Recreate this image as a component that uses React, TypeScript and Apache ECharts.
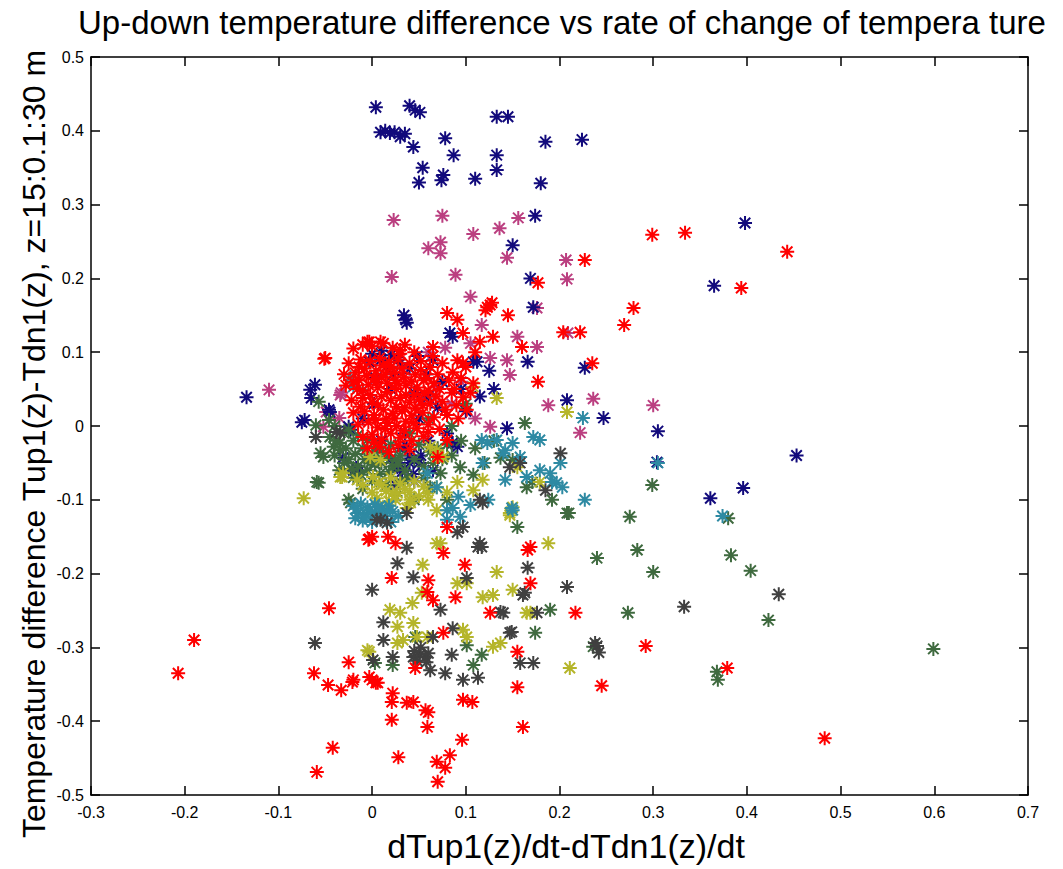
import React, { useEffect, useRef } from "react";
import * as echarts from "echarts";

// ---- axis ticks ----
const xTickLabels = ["-0.3", "-0.2", "-0.1", "0", "0.1", "0.2", "0.3", "0.4", "0.5", "0.6", "0.7"];
const yTickLabels = ["-0.5", "-0.4", "-0.3", "-0.2", "-0.1", "0", "0.1", "0.2", "0.3", "0.4", "0.5"];

const titleText = "Up-down temperature difference vs rate of change of tempera ture";
const xLabelText = "dTup1(z)/dt-dTdn1(z)/dt";
const yLabelText = "Temperature difference Tup1(z)-Tdn1(z), z=15:0.1:30 m";

// ---- series values [x, y] ----
const navyPts: number[][] = [
  [0.004, 0.432], [0.040, 0.434], [0.046, 0.428], [0.051, 0.425], [0.009, 0.398], [0.014, 0.400],
  [0.019, 0.397], [0.024, 0.398], [0.030, 0.392], [0.035, 0.396], [0.044, 0.378], [0.078, 0.390],
  [0.087, 0.367], [0.054, 0.350], [0.050, 0.330], [0.076, 0.340], [0.074, 0.333], [0.110, 0.335],
  [0.133, 0.419], [0.145, 0.419], [0.185, 0.385], [0.224, 0.388], [0.133, 0.367], [0.133, 0.347],
  [0.180, 0.329], [0.174, 0.285], [0.150, 0.245], [0.169, 0.200], [0.172, 0.161], [0.398, 0.275],
  [0.365, 0.190], [0.227, 0.079], [0.208, 0.035], [0.247, 0.011], [0.305, -0.007], [0.304, -0.049],
  [0.453, -0.040], [0.396, -0.084], [0.361, -0.098], [0.034, 0.150], [0.036, 0.144],
  [-0.134, 0.039], [-0.061, 0.056], [-0.065, 0.038], [-0.075, 0.005], [-0.046, 0.022], [-0.025, -0.001],
  [-0.031, -0.043], [-0.017, -0.057], [-0.003, 0.087], [0.004, 0.065], [0.009, 0.089], [0.027, 0.093],
  [0.083, 0.126], [0.065, 0.089], [0.112, 0.087], [0.037, -0.028], [0.027, -0.056], [0.091, -0.028],
  [-0.023, -0.005], [-0.016, -0.060], [0.037, 0.140], [0.086, 0.121], [0.108, 0.087], [0.166, 0.087],
  [-0.066, 0.049], [-0.072, 0.008], [0.144, -0.003], [0.086, -0.023], [0.030, -0.056], [-0.020, -0.060],
  [-0.045, 0.019], [0.015, 0.080], [0.022, 0.070], [0.030, 0.085], [0.040, 0.078], [0.048, 0.095],
  [0.058, 0.070], [0.020, 0.050], [0.045, 0.045], [0.060, 0.040], [0.070, 0.025], [0.050, 0.010],
  [0.035, -0.010], [0.040, -0.040], [0.030, -0.030], [0.020, -0.045], [0.050, -0.050], [0.060, -0.020],
  [0.010, -0.020], [0.002, 0.030], [-0.010, 0.010], [0.075, 0.060], [0.095, 0.050], [0.100, 0.020],
  [0.115, 0.040], [0.125, 0.075], [0.130, 0.050], [0.080, -0.010], [0.065, -0.060], [0.025, -0.080],
  [0.045, -0.075], [0.000, 0.098], [0.010, 0.102], [0.020, 0.096], [0.040, -0.050], [0.032, -0.062],
  [0.044, -0.065], [0.052, -0.040],
];

const magentaPts: number[][] = [
  [0.023, 0.279], [0.075, 0.285], [0.108, 0.260], [0.073, 0.249], [0.060, 0.241], [0.073, 0.234],
  [0.021, 0.202], [0.089, 0.205], [0.105, 0.175], [0.136, 0.268], [0.156, 0.282], [0.144, 0.228],
  [0.207, 0.225], [0.208, 0.199], [0.176, 0.160], [0.209, 0.126], [0.236, 0.037], [0.300, 0.028],
  [0.222, -0.009], [-0.110, 0.049], [-0.052, -0.001], [-0.033, 0.045], [-0.049, 0.019], [-0.035, 0.011],
  [0.117, 0.137], [0.105, 0.112], [0.078, 0.106], [0.126, 0.092], [0.155, 0.121], [0.176, 0.107],
  [0.144, 0.089], [0.147, 0.069], [0.188, 0.028], [0.126, -0.001], [0.069, 0.053], [0.053, 0.035],
  [-0.034, 0.042], [0.095, 0.060], [0.085, 0.030], [0.060, 0.100], [0.110, 0.010],
];

const greenPts: number[][] = [
  [0.299, -0.080], [0.275, -0.123], [0.283, -0.168], [0.300, -0.198], [0.273, -0.253], [0.380, -0.125],
  [0.383, -0.175], [0.404, -0.196], [0.423, -0.263], [0.599, -0.302], [0.368, -0.333], [0.369, -0.344],
  [0.155, -0.137], [0.210, -0.118], [0.192, -0.100], [0.171, -0.076], [0.137, -0.043], [0.190, -0.249],
  [0.174, -0.280], [0.163, 0.004], [0.240, -0.179], [0.236, -0.299], [0.101, -0.297], [0.117, -0.310],
  [0.108, -0.324], [0.046, -0.286], [0.003, -0.321], [0.022, -0.324], [-0.023, -0.104], [-0.057, -0.077],
  [-0.025, -0.100], [-0.052, -0.042], [-0.041, -0.028], [-0.035, -0.023], [-0.057, 0.033], [-0.060, 0.001],
  [-0.046, 0.008], [-0.059, -0.076], [-0.055, -0.037], [-0.034, -0.033], [-0.005, -0.019], [0.005, -0.028],
  [0.016, -0.042], [0.073, -0.064], [0.062, -0.083], [0.080, -0.100], [0.108, -0.066], [0.094, -0.056],
  [0.150, -0.046], [0.165, -0.083], [0.208, -0.118], [-0.030, -0.010], [-0.020, -0.020], [-0.010, -0.030],
  [0.000, -0.040], [0.010, -0.050], [0.020, -0.025], [0.030, -0.040], [-0.025, -0.045], [-0.015, -0.055],
  [-0.005, -0.060], [0.008, -0.065], [0.022, -0.055], [0.035, -0.060], [0.045, -0.045], [0.050, -0.025],
  [0.040, -0.010], [-0.035, -0.060], [-0.020, -0.070], [0.000, -0.075], [0.015, -0.080], [0.030, -0.075],
  [0.055, -0.070], [0.065, -0.050], [0.070, -0.030], [0.060, 0.010], [0.085, -0.040], [0.095, -0.020],
  [0.110, -0.030], [0.120, -0.050], [0.130, -0.020], [0.025, -0.095], [0.045, -0.100], [-0.010, -0.085],
  [0.085, 0.000], [0.100, 0.030], [-0.040, 0.000], [-0.045, -0.015],
  [-0.028, -0.030], [-0.018, -0.038], [-0.008, -0.045], [0.003, -0.052], [0.012, -0.036], [0.025, -0.045],
  [-0.030, -0.050], [-0.022, -0.058], [-0.012, -0.066], [-0.002, -0.050], [0.006, -0.030], [0.018, -0.062],
  [0.028, -0.052], [0.038, -0.070], [-0.040, -0.040], [-0.038, -0.020], [-0.025, -0.005], [-0.015, -0.012],
  [0.055, -0.055], [0.062, -0.035], [0.075, -0.045], [0.080, -0.025],
];

const olivePts: number[][] = [
  [-0.073, -0.098], [-0.032, -0.069], [-0.003, -0.306], [0.001, -0.069], [0.007, -0.077], [0.054, -0.188],
  [0.073, -0.159], [0.133, -0.198], [0.188, -0.159], [0.091, -0.213], [0.101, -0.213], [0.118, -0.232],
  [0.129, -0.229], [0.150, -0.222], [0.043, -0.240], [0.053, -0.226], [0.019, -0.249], [0.030, -0.253],
  [0.044, -0.267], [0.027, -0.272], [0.033, -0.290], [0.027, -0.294], [-0.005, -0.304], [0.048, -0.286],
  [0.059, -0.286], [0.097, -0.276], [0.101, -0.286], [0.129, -0.299], [0.137, -0.294], [0.169, -0.253],
  [0.211, -0.328], [0.069, -0.159], [0.037, -0.111], [0.014, -0.111], [0.147, -0.118], [0.069, -0.114],
  [0.118, -0.073], [0.155, -0.056], [0.179, -0.076], [0.147, -0.121], [0.165, -0.253], [-0.034, -0.069],
  [-0.002, -0.042], [0.069, -0.033], [0.076, -0.042], [0.069, -0.083], [0.091, -0.076], [0.041, -0.100],
  [0.022, -0.091], [0.108, -0.087], [0.208, 0.019], [0.133, 0.038], [0.150, -0.110], [-0.031, -0.064],
  [-0.016, -0.073], [0.009, -0.046], [0.027, -0.091], [0.041, -0.104], [0.059, -0.091], [0.069, -0.042],
  [0.062, -0.028], [0.108, 0.053], [0.010, -0.080], [0.020, -0.070], [0.035, -0.085], [0.050, -0.095],
  [0.000, -0.090], [-0.010, -0.080], [0.045, -0.075], [0.025, -0.100], [0.060, -0.100], [0.080, -0.090],
  [0.015, -0.088], [0.030, -0.078], [0.040, -0.090], [0.055, -0.082], [0.005, -0.098], [0.018, -0.102],
];

const tealPts: number[][] = [
  [-0.020, -0.108], [-0.012, -0.105], [-0.005, -0.110], [0.003, -0.106], [0.010, -0.112], [0.018, -0.108],
  [-0.015, -0.118], [-0.006, -0.120], [0.004, -0.118], [0.014, -0.122], [0.022, -0.116], [-0.010, -0.128],
  [0.000, -0.130], [0.010, -0.126], [0.020, -0.130], [-0.018, -0.125], [0.028, -0.122], [-0.023, 0.066],
  [-0.020, 0.053], [-0.010, 0.049], [0.117, -0.019], [0.123, -0.023], [0.140, -0.037], [0.158, -0.042],
  [0.172, -0.015], [0.179, -0.019], [0.225, 0.011], [0.227, -0.100], [0.197, -0.077], [0.190, -0.064],
  [0.179, -0.060], [0.142, -0.073], [0.092, -0.096], [0.086, -0.111], [0.094, -0.123], [0.118, -0.050],
  [0.142, -0.033], [0.150, -0.023], [0.165, -0.069], [0.192, -0.076], [0.203, -0.083], [0.201, -0.050],
  [0.149, -0.111], [0.124, -0.100], [0.305, -0.050], [0.374, -0.122], [0.080, -0.114], [0.150, -0.114],
  [0.059, -0.064], [0.069, -0.083], [0.080, -0.127], [0.105, -0.107], [0.133, -0.019],
  [-0.016, -0.112], [-0.002, -0.114], [0.007, -0.110], [0.016, -0.116], [-0.008, -0.124], [0.006, -0.124],
];

const grayPts: number[][] = [
  [0.091, -0.144], [0.037, -0.165], [0.113, -0.164], [0.027, -0.186], [0.044, -0.205], [0.000, -0.222],
  [0.101, -0.206], [0.166, -0.192], [0.161, -0.229], [0.208, -0.218], [0.140, -0.253], [0.176, -0.253],
  [0.073, -0.249], [0.012, -0.266], [0.012, -0.290], [0.065, -0.286], [0.086, -0.274], [0.051, -0.310],
  [0.044, -0.313], [0.057, -0.313], [0.085, -0.310], [0.062, -0.331], [0.078, -0.335], [0.097, -0.344],
  [0.113, -0.341], [0.001, -0.317], [0.022, -0.313], [-0.061, -0.294], [0.147, -0.280], [0.158, -0.321],
  [0.172, -0.321], [0.238, -0.294], [0.009, -0.127], [0.016, -0.131], [0.201, -0.037], [0.147, -0.056],
  [0.185, -0.087], [0.118, -0.104], [0.117, -0.164], [0.163, -0.226], [0.137, -0.252], [0.149, -0.279],
  [-0.038, -0.008], [-0.060, -0.015], [0.240, -0.298], [0.242, -0.307], [0.333, -0.245], [0.434, -0.228],
  [-0.034, -0.009], [0.158, -0.050], [0.115, -0.100], [0.097, -0.137], [0.115, -0.159], [0.005, -0.127],
  [0.037, -0.118], [0.045, -0.305], [0.052, -0.300], [0.060, -0.308], [0.048, -0.318], [0.058, -0.320],
];

const redPts: number[][] = [
  [0.299, 0.259], [0.334, 0.262], [0.227, 0.225], [0.177, 0.194], [0.126, 0.164], [0.121, 0.157],
  [0.145, 0.150], [0.279, 0.160], [0.269, 0.137], [0.394, 0.187], [0.443, 0.236], [0.222, 0.127],
  [0.204, 0.127], [0.235, 0.085], [0.379, -0.328], [0.483, -0.423], [0.292, -0.298], [0.245, -0.352],
  [-0.207, -0.335], [-0.190, -0.290], [-0.051, 0.091], [-0.046, -0.247], [-0.062, -0.335], [-0.025, -0.320],
  [-0.047, -0.351], [-0.033, -0.358], [-0.020, -0.344], [-0.003, -0.340], [0.004, -0.348], [-0.042, -0.436],
  [-0.059, -0.469], [-0.003, -0.153], [-0.014, 0.080], [-0.003, 0.114], [-0.004, -0.154], [0.017, -0.150],
  [0.025, -0.159], [0.076, -0.172], [0.099, -0.188], [0.060, -0.209], [0.021, -0.206], [0.059, -0.225],
  [0.065, -0.236], [0.089, -0.232], [0.126, -0.253], [0.166, -0.168], [0.169, -0.213], [0.076, -0.280],
  [0.046, -0.328], [0.155, -0.306], [0.217, -0.253], [-0.021, -0.347], [0.000, -0.344], [0.006, -0.348],
  [0.022, -0.362], [0.021, -0.374], [0.037, -0.375], [0.044, -0.374], [0.057, -0.385], [0.060, -0.388],
  [0.097, -0.371], [0.107, -0.374], [0.155, -0.354], [0.021, -0.398], [0.059, -0.408], [0.161, -0.408],
  [0.028, -0.449], [0.069, -0.455], [0.083, -0.446], [0.096, -0.425], [0.078, -0.463], [0.070, -0.482],
  [0.080, 0.153], [0.091, 0.144], [0.123, 0.161], [0.128, 0.167], [0.097, 0.126], [0.115, 0.114],
  [0.129, 0.121], [0.160, 0.107], [0.097, 0.085], [0.086, 0.073], [0.177, 0.060], [-0.050, 0.092],
  [-0.005, 0.114], [0.009, 0.114], [0.030, 0.103], [0.065, 0.107], [0.091, 0.089], [0.108, 0.058],
  [0.097, 0.039], [0.101, 0.022], [0.080, -0.019], [0.070, -0.042], [0.080, -0.137], [0.000, -0.150],
  [0.169, -0.164],
  [-0.020, 0.105], [-0.010, 0.110], [0.000, 0.108], [0.012, 0.112], [0.022, 0.106], [0.035, 0.110], [0.045, 0.100],
  [-0.025, 0.085], [-0.012, 0.090], [-0.002, 0.088], [0.008, 0.092], [0.018, 0.087], [0.028, 0.090],
  [0.040, 0.085], [0.052, 0.088], [0.062, 0.080], [-0.030, 0.070], [-0.018, 0.072], [-0.006, 0.068],
  [0.004, 0.075], [0.014, 0.070], [0.024, 0.073], [0.034, 0.066], [0.046, 0.070], [0.058, 0.065],
  [0.070, 0.070], [0.082, 0.062], [-0.028, 0.055], [-0.016, 0.050], [-0.004, 0.056], [0.006, 0.052],
  [0.016, 0.058], [0.026, 0.050], [0.036, 0.055], [0.048, 0.052], [0.060, 0.048], [0.072, 0.050],
  [0.085, 0.045], [-0.022, 0.035], [-0.010, 0.038], [0.000, 0.032], [0.010, 0.040], [0.020, 0.035],
  [0.030, 0.038], [0.040, 0.032], [0.050, 0.036], [0.062, 0.030], [0.075, 0.033], [0.090, 0.028],
  [-0.020, 0.018], [-0.008, 0.020], [0.002, 0.015], [0.012, 0.022], [0.022, 0.017], [0.032, 0.020],
  [0.042, 0.014], [0.054, 0.018], [0.066, 0.012], [0.080, 0.015], [-0.015, 0.002], [-0.004, 0.005],
  [0.006, -0.002], [0.016, 0.004], [0.026, 0.000], [0.036, 0.006], [0.048, -0.003], [0.060, 0.002],
  [0.072, -0.004], [-0.010, -0.015], [0.000, -0.012], [0.010, -0.018], [0.020, -0.010], [0.030, -0.016],
  [0.042, -0.020], [0.055, -0.014], [-0.005, -0.030], [0.008, -0.028], [0.018, -0.035], [0.028, -0.026],
  [0.040, -0.032], [0.005, 0.060], [0.015, 0.010], [0.025, 0.062], [0.035, 0.025], [0.045, 0.042],
  [0.055, 0.062], [0.012, 0.082], [0.030, 0.098], [-0.020, 0.060], [0.065, 0.095], [0.075, 0.085],
  [0.095, 0.065], [0.105, 0.045], [0.092, 0.010], [0.100, 0.080], [0.110, 0.100],
  [-0.014, 0.062], [-0.008, 0.078], [0.002, 0.064], [0.010, 0.066], [0.020, 0.080], [0.026, 0.058],
  [0.032, 0.078], [0.042, 0.060], [0.052, 0.076], [0.066, 0.058], [-0.012, 0.026], [-0.002, 0.042],
  [0.006, 0.028], [0.016, 0.046], [0.026, 0.026], [0.036, 0.042], [0.046, 0.024], [0.056, 0.044],
  [0.068, 0.040], [0.004, 0.008], [0.014, -0.004], [0.024, 0.010], [0.034, -0.006], [0.044, 0.004],
  [0.054, 0.028], [-0.010, 0.048], [0.078, 0.022], [0.088, 0.050], [0.060, -0.008], [0.002, -0.022],
];

const seriesList = [
  { name: "s1", color: "#bb3f80", data: magentaPts },
  { name: "s2", color: "#120a7c", data: navyPts },
  { name: "s3", color: "#3f6a3f", data: greenPts },
  { name: "s4", color: "#b5b52a", data: olivePts },
  { name: "s5", color: "#2e8aa3", data: tealPts },
  { name: "s6", color: "#404040", data: grayPts },
  { name: "s7", color: "#ff0000", data: redPts },
];

const STAR = "path://M0,-10L0,10M-10,0L10,0M-7.5,-7.5L7.5,7.5M-7.5,7.5L7.5,-7.5";
const FONT = "'Liberation Sans', Arial, sans-serif";

export default function App() {
  const ref = useRef<HTMLDivElement>(null);
  useEffect(() => {
    if (!ref.current) return;
    const chart = echarts.init(ref.current, null, { renderer: "svg" });
    const axisLine = { show: true, onZero: false, lineStyle: { color: "#000", width: 1.5 } };
    const axisTick = { show: true, inside: true, length: 9, lineStyle: { color: "#000", width: 1.5 } };
    const xFmt = (v: number) => xTickLabels[Math.round((v + 0.3) / 0.1)] ?? "";
    const yFmt = (v: number) => yTickLabels[Math.round((v + 0.5) / 0.1)] ?? "";
    chart.setOption({
      animation: false,
      backgroundColor: "#fff",
      grid: { left: 91, right: 35, top: 57, bottom: 74, containLabel: false },
      xAxis: [
        {
          type: "value", min: -0.3, max: 0.7, interval: 0.1, position: "bottom",
          axisLine, axisTick, splitLine: { show: false },
          axisLabel: { color: "#000", fontSize: 16, fontFamily: FONT, margin: 9, formatter: xFmt, showMinLabel: true, showMaxLabel: true },
        },
        {
          type: "value", min: -0.3, max: 0.7, interval: 0.1, position: "top",
          axisLine, axisTick, splitLine: { show: false }, axisLabel: { show: false },
        },
      ],
      yAxis: [
        {
          type: "value", min: -0.5, max: 0.5, interval: 0.1, position: "left",
          axisLine, axisTick, splitLine: { show: false },
          axisLabel: { color: "#000", fontSize: 16, fontFamily: FONT, margin: 7, formatter: yFmt, showMinLabel: true, showMaxLabel: true },
        },
        {
          type: "value", min: -0.5, max: 0.5, interval: 0.1, position: "right",
          axisLine, axisTick, splitLine: { show: false }, axisLabel: { show: false },
        },
      ],
      graphic: [
        {
          type: "text", x: 78, y: 22, silent: true,
          style: { text: titleText, fontSize: 33, fontFamily: FONT, fill: "#000", textAlign: "left", textVerticalAlign: "middle" },
        },
        {
          type: "text", x: 566, y: 846, silent: true,
          style: { text: xLabelText, fontSize: 34, fontFamily: FONT, fill: "#000", textAlign: "center", textVerticalAlign: "middle" },
        },
        {
          type: "text", x: 34, y: 444, rotation: Math.PI / 2, silent: true,
          style: { text: yLabelText, fontSize: 32, fontFamily: FONT, fill: "#000", textAlign: "center", textVerticalAlign: "middle" },
        },
      ],
      series: seriesList.map((s) => ({
        name: s.name,
        type: "scatter",
        xAxisIndex: 0,
        yAxisIndex: 0,
        data: s.data,
        symbol: STAR,
        symbolSize: 14,
        silent: true,
        itemStyle: { color: s.color, borderColor: s.color, borderWidth: 2, opacity: 1 },
        emphasis: { disabled: true },
      })),
    });
    return () => chart.dispose();
  }, []);
  return (
    <div
      ref={ref}
      style={{ position: "fixed", left: 0, top: 0, width: 1063, height: 869, background: "#fff" }}
    />
  );
}
